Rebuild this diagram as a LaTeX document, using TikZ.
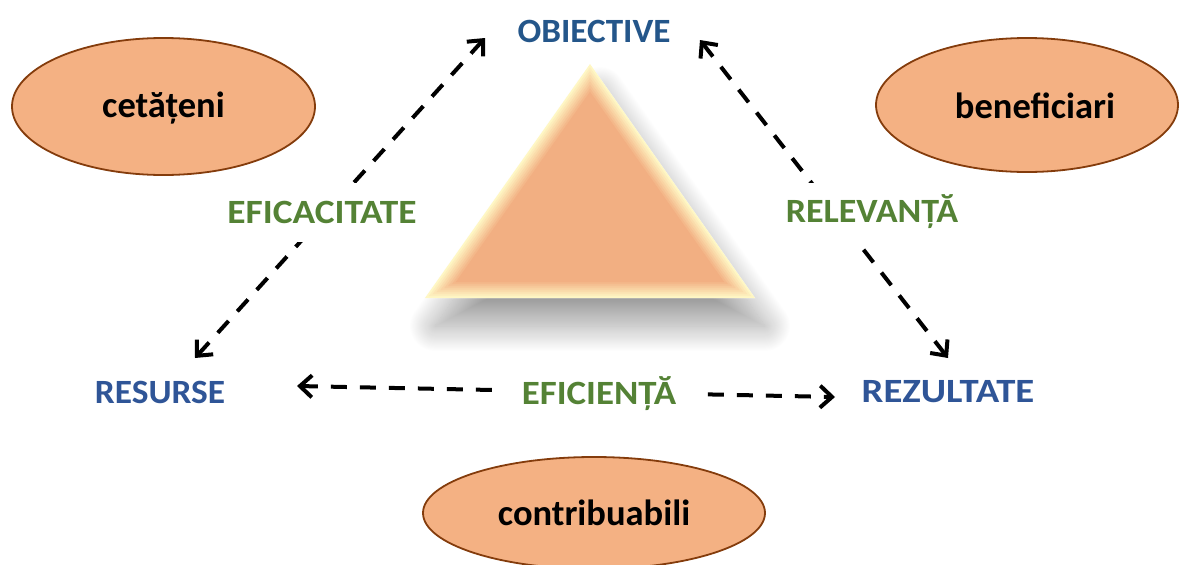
\documentclass[tikz,border=0pt]{standalone}
\usepackage{fontspec}
\setmainfont{Carlito}
\usetikzlibrary{arrows.meta,shadows.blur,calc,shapes.geometric}
\definecolor{ellfill}{HTML}{F4B183}
\definecolor{elldraw}{HTML}{843C0C}
\definecolor{blueA}{HTML}{24568A}
\definecolor{blueB}{HTML}{2F5597}
\definecolor{greenL}{HTML}{548235}
\definecolor{triOut}{HTML}{FFF7C4}
\definecolor{triIn}{HTML}{F2AF82}
\tikzset{
  bub/.style={ellipse, fill=ellfill, draw=elldraw, line width=1.8pt, inner sep=0pt},
  bubtxt/.style={font=\fontsize{36.5}{44}\selectfont\bfseries, text=black},
  pole/.style={font=\fontsize{34}{40}\selectfont\bfseries, inner sep=0pt},
  crit/.style={font=\fontsize{34}{40}\selectfont\bfseries, text=greenL, fill=white, inner sep=0pt},
  conn/.style={line width=4pt, dash pattern=on 16pt off 13pt,
    {Straight Barb[length=12pt,width=22pt,line width=4pt]}-{Straight Barb[length=12pt,width=22pt,line width=4pt]}},
}
\begin{document}
\begin{tikzpicture}[x=1pt,y=-1pt]
\useasboundingbox (0,0) rectangle (1179,565);

% ellipses
\node[bub, minimum width=303pt, minimum height=137pt] (cet) at (163.5,106.5) {};
\node[bubtxt] at (163.5,108) {cetățeni};
\node[bub, minimum width=302pt, minimum height=134pt] (ben) at (1027,105) {};
\node[bubtxt] at (1035,106) {beneficiari};
\node[bub, minimum width=342pt, minimum height=112pt] (con) at (594,513) {};
\node[bubtxt] at (con.center) {contribuabili};

% triangle
\coordinate (A) at (590,64);
\coordinate (B) at (425,298);
\coordinate (C) at (755,298);
\coordinate (I) at (590,212.4);
\path[fill=white, blur shadow={shadow xshift=10pt, shadow yshift=-28pt, shadow blur radius=26pt, shadow blur steps=50, shadow opacity=38}]
  (A) -- (B) -- (C) -- cycle;
\foreach \k in {0,...,8}{
  \pgfmathsetmacro\s{1-\k*2/85.6}
  \pgfmathsetmacro\p{min(100,\k*12.5)}
  \fill[triIn!\p!triOut] ($(I)!\s!(A)$) -- ($(I)!\s!(B)$) -- ($(I)!\s!(C)$) -- cycle;
}

% poles
\node[pole, text=blueA] (obj) at (594,31) {\scalebox{1.034}[1]{OBIECTIVE}};
\node[pole, text=blueB] (res) at (160,392) {\scalebox{1.04}[1]{RESURSE}};
\node[pole, text=blueB] (rez) at (948,392) {\scalebox{1.14}[1]{REZULTATE}};

% arrow end points
\coordinate (objL) at (485,38);
\coordinate (objR) at (700,40);
\coordinate (resT) at (195,358);
\coordinate (resR) at (297,386);
\coordinate (rezT) at (948,358);
\coordinate (rezL) at (835,397);

\draw[conn] (resT) -- (objL);
\draw[conn] (objR) -- (rezT);
\draw[conn] (resR) -- (rezL);

% criteria labels
\node[crit, minimum width=227pt, minimum height=59pt] (efa) at (322,212) {\scalebox{1.10}[1]{EFICACITATE}};
\node[crit, minimum width=212pt, minimum height=59pt] (rel) at (872,212) {\scalebox{1.06}[1]{RELEVANȚĂ}};
\node[crit, minimum width=214pt, minimum height=40pt] (efi) at (599,394) {\scalebox{1.085}[1]{EFICIENȚĂ}};
\end{tikzpicture}
\end{document}
